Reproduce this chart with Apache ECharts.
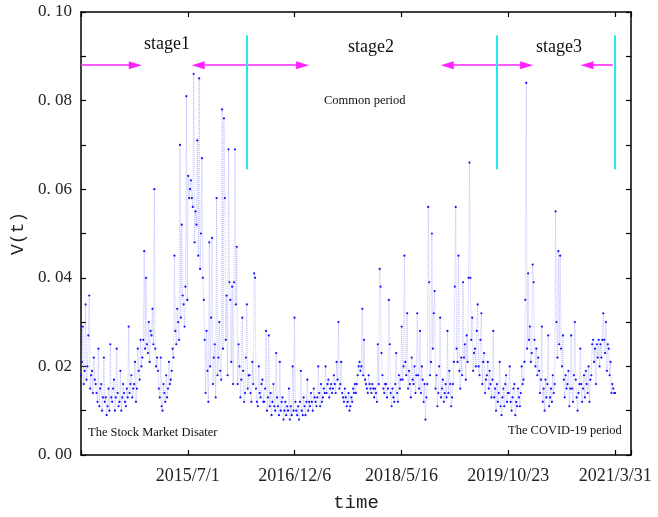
<!DOCTYPE html>
<html>
<head>
<meta charset="utf-8">
<script src="https://cdn.jsdelivr.net/npm/echarts@6/dist/echarts.min.js"></script>
<style>
  html, body { margin: 0; padding: 0; background: #fff; }
  #chart { width: 658px; height: 517px; }
</style>
</head>
<body>
<div id="chart"></div>
<script>
// Trading-day index of each labelled date on the time axis
const tickDays = [350, 700, 1050, 1400, 1750];
const tickDates = ['2015/7/1', '2016/12/6', '2018/5/16', '2019/10/23', '2021/3/31'];

// Last trading day of the sample (2021/3/31)
const LAST_DAY = 1750;

// V(t), evenly sampled over trading days 0 .. LAST_DAY
const vol = [
  0.018, 0.021, 0.029, 0.016, 0.019, 0.034, 0.017, 0.020, 0.027, 0.036, 0.015, 0.018, 0.019, 0.014, 0.022, 0.017, 0.016,
  0.014, 0.012, 0.024, 0.011, 0.015, 0.016, 0.010, 0.013, 0.022, 0.012, 0.013, 0.009, 0.011, 0.015, 0.010, 0.025, 0.013,
  0.012, 0.015, 0.017, 0.010, 0.013, 0.024, 0.014, 0.011, 0.012, 0.019, 0.010, 0.013, 0.016, 0.014, 0.012, 0.011, 0.015,
  0.013, 0.029, 0.014, 0.016, 0.018, 0.013, 0.015, 0.016, 0.021, 0.012, 0.015, 0.024, 0.019, 0.017, 0.026, 0.020,
  0.022, 0.026, 0.046, 0.024, 0.040, 0.025, 0.023, 0.030, 0.021, 0.028, 0.027, 0.033, 0.025, 0.060, 0.024, 0.020, 0.022,
  0.019, 0.015, 0.013, 0.022, 0.011, 0.010, 0.016, 0.014, 0.012, 0.018, 0.013, 0.015, 0.021, 0.016, 0.017, 0.019,
  0.024, 0.022, 0.045, 0.028, 0.025, 0.033, 0.030, 0.026, 0.070, 0.031, 0.052, 0.036, 0.034, 0.029, 0.038, 0.081, 0.035,
  0.063, 0.058, 0.060, 0.062, 0.058, 0.056, 0.086, 0.048, 0.055, 0.052, 0.071, 0.045, 0.085, 0.042, 0.050, 0.067, 0.040,
  0.035, 0.026, 0.014, 0.028, 0.019, 0.012, 0.048, 0.020, 0.031, 0.049, 0.016, 0.022, 0.025, 0.013, 0.058, 0.018,
  0.022, 0.030, 0.019, 0.017, 0.078, 0.024, 0.076, 0.058, 0.026, 0.036, 0.018, 0.069, 0.039, 0.035, 0.021, 0.038, 0.016,
  0.039, 0.069, 0.034, 0.047, 0.016, 0.025, 0.020, 0.013, 0.017, 0.031, 0.019, 0.012, 0.014, 0.022, 0.034, 0.015, 0.018,
  0.018, 0.014, 0.012, 0.021, 0.016, 0.041, 0.040, 0.015, 0.012, 0.011, 0.020, 0.014, 0.013, 0.016, 0.017, 0.012,
  0.012, 0.015, 0.028, 0.010, 0.013, 0.027, 0.011, 0.014, 0.009, 0.012, 0.016, 0.011, 0.010, 0.023, 0.013, 0.011, 0.009,
  0.021, 0.010, 0.012, 0.013, 0.008, 0.010, 0.012, 0.009, 0.011, 0.010, 0.015, 0.008, 0.011, 0.009, 0.020, 0.010,
  0.031, 0.012, 0.010, 0.009, 0.011, 0.008, 0.012, 0.019, 0.010, 0.009, 0.013, 0.011, 0.009, 0.012, 0.017, 0.010, 0.012,
  0.011, 0.014, 0.012, 0.010, 0.015, 0.013, 0.012, 0.011, 0.013, 0.020, 0.014, 0.011, 0.016, 0.012, 0.013, 0.015, 0.014,
  0.020, 0.014, 0.016, 0.017, 0.013, 0.015, 0.016, 0.014, 0.015, 0.018, 0.016, 0.014, 0.021, 0.017, 0.030, 0.015,
  0.016, 0.021, 0.014, 0.013, 0.012, 0.015, 0.013, 0.011, 0.012, 0.014, 0.010, 0.011, 0.013, 0.012, 0.015, 0.014, 0.016,
  0.014, 0.016, 0.018, 0.020, 0.021, 0.019, 0.020, 0.033, 0.018, 0.026, 0.017, 0.016, 0.015, 0.014, 0.018, 0.016, 0.015,
  0.014, 0.016, 0.015, 0.013, 0.015, 0.014, 0.012, 0.025, 0.016, 0.042, 0.038, 0.023, 0.018, 0.015, 0.014, 0.016,
  0.016, 0.013, 0.015, 0.035, 0.025, 0.014, 0.011, 0.015, 0.013, 0.012, 0.016, 0.023, 0.014, 0.012, 0.018, 0.015, 0.017,
  0.029, 0.017, 0.020, 0.045, 0.021, 0.018, 0.032, 0.015, 0.019, 0.016, 0.013, 0.022, 0.017, 0.016, 0.020, 0.014, 0.018,
  0.032, 0.018, 0.015, 0.028, 0.014, 0.020, 0.017, 0.012, 0.016, 0.008, 0.013, 0.016, 0.056, 0.039, 0.018, 0.021,
  0.050, 0.024, 0.032, 0.037, 0.015, 0.018, 0.011, 0.014, 0.020, 0.031, 0.013, 0.015, 0.017, 0.012, 0.014, 0.016, 0.013,
  0.028, 0.014, 0.019, 0.016, 0.011, 0.013, 0.016, 0.021, 0.038, 0.056, 0.024, 0.021, 0.045, 0.019, 0.015, 0.022, 0.018,
  0.039, 0.022, 0.025, 0.017, 0.027, 0.021, 0.040, 0.066, 0.040, 0.026, 0.031, 0.019, 0.023, 0.024, 0.020, 0.028,
  0.034, 0.020, 0.018, 0.026, 0.032, 0.016, 0.021, 0.023, 0.014, 0.017, 0.018, 0.021, 0.015, 0.019, 0.016, 0.013, 0.017,
  0.028, 0.013, 0.015, 0.010, 0.016, 0.012, 0.014, 0.021, 0.011, 0.009, 0.013, 0.015, 0.011, 0.016, 0.018, 0.012, 0.014,
  0.014, 0.020, 0.012, 0.010, 0.013, 0.015, 0.016, 0.009, 0.012, 0.011, 0.015, 0.013, 0.011, 0.014, 0.020, 0.016,
  0.017, 0.021, 0.035, 0.084, 0.024, 0.041, 0.026, 0.029, 0.021, 0.023, 0.043, 0.039, 0.026, 0.020, 0.024, 0.018, 0.022,
  0.019, 0.014, 0.017, 0.029, 0.012, 0.015, 0.010, 0.017, 0.013, 0.016, 0.027, 0.011, 0.013, 0.015, 0.012, 0.018, 0.014,
  0.016, 0.055, 0.030, 0.022, 0.046, 0.025, 0.045, 0.024, 0.020, 0.027, 0.017, 0.013, 0.018, 0.015, 0.016, 0.019,
  0.011, 0.015, 0.027, 0.015, 0.012, 0.018, 0.030, 0.017, 0.013, 0.010, 0.014, 0.016, 0.024, 0.016, 0.012, 0.015, 0.018,
  0.013, 0.019, 0.016, 0.014, 0.020, 0.012, 0.017, 0.018, 0.025, 0.026, 0.021, 0.024, 0.016, 0.025, 0.022, 0.026, 0.020,
  0.025, 0.022, 0.026, 0.032, 0.026, 0.023, 0.030, 0.019, 0.025, 0.024, 0.018, 0.021, 0.014, 0.016, 0.015, 0.014,
  0.014
];

const serif = 'Liberation Serif';
const mono = 'Liberation Mono';

const chart = echarts.init(document.getElementById('chart'), null, { renderer: 'canvas' });

const frameLine = { show: true, onZero: false, lineStyle: { color: '#000', width: 1.5 } };
const inTick = { show: true, inside: true, length: 5, lineStyle: { color: '#000', width: 1.2 } };

const xCommon = { type: 'value', min: 0, max: 1802, interval: 350, splitLine: { show: false } };
const yCommon = { type: 'value', min: 0, max: 0.1, interval: 0.01, splitLine: { show: false } };

const sampleStep = LAST_DAY / (vol.length - 1);

function arrow(from, to, headFrom, headTo) {
  return [
    { coord: [from, 0.088], symbol: headFrom ? 'triangle' : 'none' },
    { coord: [to, 0.088], symbol: headTo ? 'triangle' : 'none' }
  ];
}
function divider(day) {
  return [{ coord: [day, 0.0947] }, { coord: [day, 0.0645] }];
}

chart.setOption({
  animation: false,
  grid: { left: 81, right: 27, top: 12, bottom: 60, containLabel: false },
  xAxis: [
    Object.assign({}, xCommon, {
      position: 'bottom',
      axisLine: frameLine,
      axisTick: inTick,
      axisLabel: {
        margin: 12,
        fontFamily: serif, fontSize: 18, color: '#222',
        formatter: v => {
          const k = tickDays.indexOf(Math.round(v));
          return k >= 0 ? tickDates[k] : '';
        }
      },
      name: 'time', nameLocation: 'middle', nameGap: 38,
      nameTextStyle: { fontFamily: mono, fontSize: 19, color: '#222' }
    }),
    Object.assign({}, xCommon, {
      position: 'top',
      axisLine: frameLine,
      axisTick: inTick,
      axisLabel: { show: false }
    })
  ],
  yAxis: [
    Object.assign({}, yCommon, {
      position: 'left',
      axisLine: frameLine,
      axisTick: inTick,
      axisLabel: {
        margin: 9,
        fontFamily: serif, fontSize: 17, color: '#222',
        formatter: v => {
          const c = Math.round(v * 100);
          return c % 2 === 0 ? (c / 100).toFixed(2).replace('.', '. ') : '';
        }
      },
      name: 'V(t)', nameLocation: 'middle', nameGap: 52, nameRotate: 90,
      nameTextStyle: { fontFamily: mono, fontSize: 18, color: '#222' }
    }),
    Object.assign({}, yCommon, {
      position: 'right',
      axisLine: frameLine,
      axisTick: inTick,
      axisLabel: { show: false }
    })
  ],
  series: [
    {
      name: 'V(t)',
      type: 'line',
      data: vol.map((v, i) => [i * sampleStep, v]),
      symbol: 'circle',
      symbolSize: 2.2,
      showSymbol: true,
      showAllSymbol: true,
      itemStyle: { color: '#1010ff' },
      lineStyle: { type: 'dotted', width: 1, color: 'rgba(130,130,255,0.45)' },
      emphasis: { disabled: true }
    },
    {
      name: 'periods',
      type: 'line',
      data: [],
      silent: true,
      markLine: {
        silent: true,
        animation: false,
        symbolSize: [8, 13],
        label: { show: false },
        lineStyle: { color: '#ff22ff', width: 1.6, type: 'solid' },
        data: [
          arrow(0, 178, false, true),
          arrow(384, 726, true, true),
          arrow(1200, 1460, true, true),
          arrow(1742, 1658, false, true)
        ]
      }
    },
    {
      name: 'dividers',
      type: 'line',
      data: [],
      silent: true,
      markLine: {
        silent: true,
        animation: false,
        symbol: 'none',
        label: { show: false },
        lineStyle: { color: '#22e8f0', width: 2, type: 'solid' },
        data: [divider(543), divider(1363), divider(1750)]
      }
    }
  ],
  graphic: [
    { type: 'text', left: 144, top: 35, style: { text: 'stage1', font: '18px "Liberation Serif"', fill: '#111' } },
    { type: 'text', left: 348, top: 38, style: { text: 'stage2', font: '18px "Liberation Serif"', fill: '#111' } },
    { type: 'text', left: 536, top: 38, style: { text: 'stage3', font: '18px "Liberation Serif"', fill: '#111' } },
    { type: 'text', left: 324, top: 94, style: { text: 'Common period', font: '12.5px "Liberation Serif"', fill: '#111' } },
    { type: 'text', left: 88, top: 426, style: { text: 'The Stock Market Disater', font: '12.5px "Liberation Serif"', fill: '#111' } },
    { type: 'text', left: 508, top: 424, style: { text: 'The COVID-19 period', font: '12.5px "Liberation Serif"', fill: '#111' } }
  ]
});
</script>
</body>
</html>
